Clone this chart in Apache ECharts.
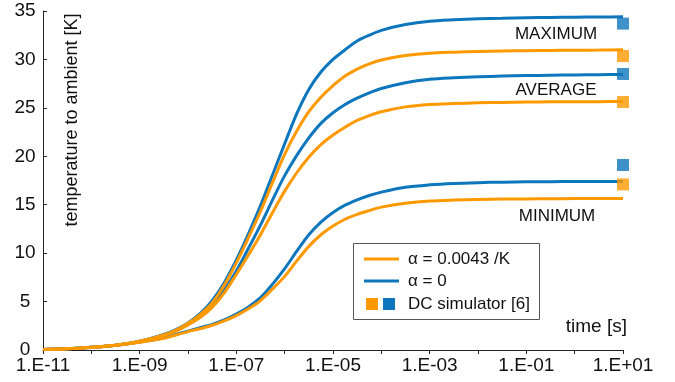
<!DOCTYPE html>
<html>
<head>
<meta charset="utf-8">
<script src="https://cdn.jsdelivr.net/npm/echarts@6/dist/echarts.min.js"></script>
<style>
  html, body { margin: 0; padding: 0; background: #fff; }
  #chart { width: 675px; height: 382px; }
</style>
</head>
<body>
<div id="chart"></div>
<script>
// sample times (s): half decades, quarter decades through the steep part
var times = [1e-11, 3.16e-11, 1e-10, 3.16e-10, 1e-9, 3.16e-9,
  5.62e-9, 1e-8, 1.78e-8, 3.16e-8, 5.62e-8, 1e-7, 1.78e-7, 3.16e-7, 5.62e-7, 1e-6,
  1.78e-6, 3.16e-6, 5.62e-6, 1e-5, 1.78e-5, 3.16e-5, 5.62e-5,
  1e-4, 3.16e-4, 1e-3, 3.16e-3, 1e-2, 3.16e-2, 1e-1, 3.16e-1, 1, 3.16, 10];

// temperature rise [K], alpha = 0 (blue)
var maxA0 = [0.05, 0.12, 0.28, 0.5, 0.9, 1.6,
  2.1, 2.8, 3.75, 5.1, 6.95, 9.3, 12.0, 14.9, 18.1, 21.3, 24.4, 26.9, 28.7, 30.0, 31.0, 31.9, 32.5,
  33.0, 33.6, 33.95, 34.1, 34.2, 34.25, 34.3, 34.33, 34.36, 34.38, 34.4];
var avgA0 = [0.05, 0.12, 0.28, 0.5, 0.88, 1.5,
  2.0, 2.65, 3.5, 4.6, 6.2, 8.15, 10.5, 12.9, 15.5, 18.0, 20.1, 21.9, 23.4, 24.5, 25.35, 26.0, 26.55,
  27.0, 27.6, 27.95, 28.1, 28.2, 28.28, 28.33, 28.37, 28.4, 28.43, 28.45];
var minA0 = [0.05, 0.12, 0.27, 0.48, 0.82, 1.25,
  1.6, 1.95, 2.3, 2.65, 3.1, 3.7, 4.45, 5.4, 6.8, 8.4, 10.2, 11.9, 13.2, 14.2, 14.95, 15.5, 15.95,
  16.3, 16.8, 17.05, 17.2, 17.28, 17.33, 17.36, 17.38, 17.4, 17.4, 17.4];

// alpha = 0.0043 /K (orange)
var maxA1 = [0.05, 0.12, 0.28, 0.5, 0.9, 1.55,
  2.05, 2.75, 3.65, 4.85, 6.7, 9.0, 11.6, 14.3, 17.3, 20.2, 22.6, 24.6, 26.1, 27.3, 28.3, 29.0, 29.55,
  29.95, 30.4, 30.65, 30.75, 30.82, 30.87, 30.9, 30.93, 30.95, 30.97, 31.0];
var avgA1 = [0.05, 0.12, 0.28, 0.5, 0.88, 1.5,
  1.95, 2.6, 3.35, 4.4, 5.9, 7.8, 9.8, 11.9, 14.2, 16.4, 18.3, 19.9, 21.2, 22.2, 23.0, 23.7, 24.2,
  24.6, 25.1, 25.35, 25.45, 25.52, 25.56, 25.6, 25.62, 25.63, 25.64, 25.65];
var minA1 = [0.05, 0.12, 0.27, 0.48, 0.8, 1.2,
  1.55, 1.9, 2.2, 2.55, 3.0, 3.55, 4.25, 5.1, 6.3, 7.6, 9.2, 10.7, 11.9, 12.8, 13.5, 14.0, 14.4,
  14.75, 15.15, 15.38, 15.48, 15.54, 15.58, 15.6, 15.62, 15.63, 15.64, 15.65];

// DC simulator [6] results at the end time
var dcTime = 10;
var dcA0 = [33.7, 28.5, 19.1];
var dcA1 = [30.35, 25.6, 17.1];

var yTicks = { min: 0, max: 35, step: 5 };

var blue = '#0e76bc';
var orange = '#ff9900';
var font = "'Liberation Sans', Arial, sans-serif";

function pairs(xs, ys) {
  return xs.map(function (x, i) { return [x, ys[i]]; });
}

function curve(name, ys, color) {
  return {
    name: name,
    type: 'line',
    data: pairs(times, ys),
    smooth: 0.3,
    showSymbol: false,
    silent: true,
    lineStyle: { color: color, width: 3 },
    z: color === orange ? 3 : 2
  };
}

function dots(name, ys, color) {
  return {
    name: name,
    type: 'scatter',
    data: ys.map(function (v) { return [dcTime, v]; }),
    symbol: 'rect',
    symbolSize: 12,
    itemStyle: { color: color },
    z: 4
  };
}

function decadeLabel(v) {
  var e = Math.round(Math.log10(v));
  if ((e + 11) % 2 !== 0) return '';
  var a = Math.abs(e);
  return '1.E' + (e < 0 ? '-' : '+') + (a < 10 ? '0' : '') + a;
}

var chart = echarts.init(document.getElementById('chart'));
chart.setOption({
  animation: false,
  grid: { left: 43, right: 52, top: 11, bottom: 32 },
  xAxis: {
    type: 'log',
    logBase: 10,
    min: 1e-11,
    max: 10,
    interval: 1,
    axisLine: { lineStyle: { color: '#222', width: 1 } },
    axisTick: { show: true, inside: false, length: 4, lineStyle: { color: '#222' } },
    splitLine: { show: false },
    minorTick: { show: false },
    axisLabel: {
      color: '#111', fontSize: 19, fontFamily: font, margin: 6,
      showMinLabel: true, showMaxLabel: true,
      formatter: decadeLabel
    }
  },
  yAxis: {
    type: 'value',
    min: yTicks.min,
    max: yTicks.max,
    interval: yTicks.step,
    axisLine: { show: true, lineStyle: { color: '#222', width: 1 } },
    axisTick: { show: true, inside: true, length: 4, lineStyle: { color: '#222' } },
    splitLine: { show: false },
    axisLabel: { color: '#111', fontSize: 19, fontFamily: font, margin: 18, align: 'center' }
  },
  series: [
    curve('α = 0', maxA0, blue),
    curve('α = 0', avgA0, blue),
    curve('α = 0', minA0, blue),
    curve('α = 0.0043 /K', maxA1, orange),
    curve('α = 0.0043 /K', avgA1, orange),
    curve('α = 0.0043 /K', minA1, orange),
    dots('DC simulator [6]', dcA0, blue),
    dots('DC simulator [6]', dcA1, orange)
  ],
  graphic: [
    { type: 'text', x: 72, y: 120, rotation: Math.PI / 2,
      style: { text: 'temperature to ambient [K]', font: '18px ' + font, fill: '#111', align: 'center', verticalAlign: 'middle' } },
    { type: 'text', x: 627, y: 327,
      style: { text: 'time [s]', font: '19px ' + font, fill: '#111', align: 'right', verticalAlign: 'middle' } },
    { type: 'text', x: 556, y: 34,
      style: { text: 'MAXIMUM', font: '17px ' + font, fill: '#111', align: 'center', verticalAlign: 'middle' } },
    { type: 'text', x: 556, y: 90,
      style: { text: 'AVERAGE', font: '17px ' + font, fill: '#111', align: 'center', verticalAlign: 'middle' } },
    { type: 'text', x: 557, y: 216,
      style: { text: 'MINIMUM', font: '17px ' + font, fill: '#111', align: 'center', verticalAlign: 'middle' } },
    // legend
    { type: 'rect', shape: { x: 353.5, y: 243.5, width: 186, height: 76 },
      style: { fill: '#fff', stroke: '#555', lineWidth: 1 }, z: 10 },
    { type: 'line', shape: { x1: 364, y1: 259, x2: 399, y2: 259 }, style: { stroke: orange, lineWidth: 3 }, z: 11 },
    { type: 'line', shape: { x1: 364, y1: 281, x2: 399, y2: 281 }, style: { stroke: blue, lineWidth: 3 }, z: 11 },
    { type: 'rect', shape: { x: 366, y: 298, width: 12, height: 12 }, style: { fill: orange }, z: 11 },
    { type: 'rect', shape: { x: 383, y: 298, width: 12, height: 12 }, style: { fill: blue }, z: 11 },
    { type: 'text', x: 408, y: 259, z: 11,
      style: { text: 'α = 0.0043 /K', font: '17px ' + font, fill: '#111', verticalAlign: 'middle' } },
    { type: 'text', x: 408, y: 281, z: 11,
      style: { text: 'α = 0', font: '17px ' + font, fill: '#111', verticalAlign: 'middle' } },
    { type: 'text', x: 408, y: 304, z: 11,
      style: { text: 'DC simulator [6]', font: '17px ' + font, fill: '#111', verticalAlign: 'middle' } }
  ]
});
</script>
</body>
</html>
